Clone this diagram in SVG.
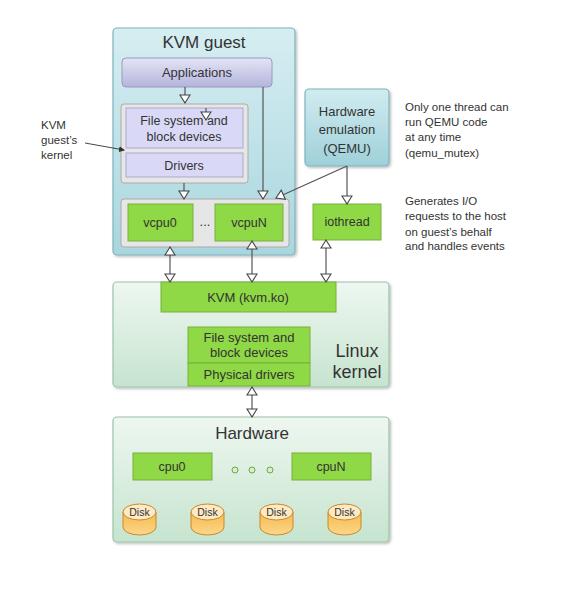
<svg xmlns="http://www.w3.org/2000/svg" width="570" height="592" viewBox="0 0 570 592">
<defs>
<linearGradient id="gBlue" x1="0" y1="0" x2="0" y2="1"><stop offset="0" stop-color="#d6eef2"/><stop offset="1" stop-color="#a9d6de"/></linearGradient>
<linearGradient id="gLav" x1="0" y1="0" x2="0" y2="1"><stop offset="0" stop-color="#e4e4f6"/><stop offset="1" stop-color="#b4b4dc"/></linearGradient>
<linearGradient id="gGreenBg" x1="0" y1="0" x2="0" y2="1"><stop offset="0" stop-color="#eef7f0"/><stop offset="1" stop-color="#c6e4cf"/></linearGradient>
<linearGradient id="gQemu" x1="0" y1="0" x2="0" y2="1"><stop offset="0" stop-color="#d0ecf0"/><stop offset="1" stop-color="#9fd0d9"/></linearGradient>
<linearGradient id="gDisk" x1="0" y1="0" x2="0" y2="1"><stop offset="0" stop-color="#f6b94e"/><stop offset="1" stop-color="#fbd78a"/></linearGradient>
<marker id="tri" markerWidth="12" markerHeight="12" refX="9" refY="6" orient="auto-start-reverse" markerUnits="userSpaceOnUse" viewBox="0 0 12 12">
<path d="M1,1 L9,6 L1,11 Z" fill="#fff" stroke="#444" stroke-width="1.1"/>
</marker>
<marker id="small" markerWidth="6" markerHeight="6" refX="5" refY="3" orient="auto" markerUnits="userSpaceOnUse" viewBox="0 0 6 6">
<path d="M0,0 L6,3 L0,6 Z" fill="#333"/>
</marker>
<filter id="sh" x="-5%" y="-5%" width="110%" height="110%"><feDropShadow dx="1.5" dy="1.5" stdDeviation="1" flood-color="#000" flood-opacity="0.25"/></filter>
</defs>
<style>
text{font-family:"Liberation Sans","DejaVu Sans",sans-serif;fill:#333}
.c{text-anchor:middle}
.green{fill:#8fd846;stroke:#7ab03c;stroke-width:1}
.lav{fill:#d9d9f7;stroke:#a9a9cc;stroke-width:1}
.ln{stroke:#555;stroke-width:1.2;fill:none}
.t11{font-size:11.5px}
.t12{font-size:12.5px}
.t13{font-size:13px}
.t17{font-size:17px}
.disk{fill:url(#gDisk);stroke:#c98a2a;stroke-width:1}
.dtop{fill:#fde9c4;stroke:#c98a2a;stroke-width:1}
</style>
<rect width="570" height="592" fill="#fff"/>

<g id="kvm-guest">
<rect x="113" y="28" width="182" height="227" rx="4" fill="url(#gBlue)" stroke="#7fb3bd" stroke-width="1.2" filter="url(#sh)"/>
<text x="204" y="48" class="c t17">KVM guest</text>
</g>
<g id="applications">
<rect x="122" y="58" width="150" height="29" rx="4" fill="url(#gLav)" stroke="#9a9ac0" stroke-width="1"/>
<text x="197" y="77" class="c t13">Applications</text>
</g>
<g id="guest-kernel">
<rect x="121" y="104" width="127" height="79" rx="3" fill="#e6e6e6" stroke="#aaa" stroke-width="1"/>
</g>
<g id="guest-fs">
<rect x="126" y="108" width="117" height="40" class="lav"/>
<text x="184" y="125" class="c t12">File system and</text>
<text x="184" y="141" class="c t12">block devices</text>
</g>
<g id="guest-drivers">
<rect x="126" y="153" width="117" height="24" class="lav"/>
<text x="184" y="170" class="c t12">Drivers</text>
</g>
<g id="vcpu-container">
<rect x="121" y="199" width="168" height="48" rx="3" fill="#e6e6e6" stroke="#aaa" stroke-width="1"/>
<text x="205" y="226" class="c t13">...</text>
</g>
<g id="vcpu0">
<rect x="128" y="204" width="65" height="37" class="green"/>
<text x="160" y="227" class="c t12">vcpu0</text>
</g>
<g id="vcpuN">
<rect x="215" y="204" width="68" height="37" class="green"/>
<text x="249" y="227" class="c t12">vcpuN</text>
</g>
<g id="qemu">
<rect x="305" y="89" width="84" height="77" rx="4" fill="url(#gQemu)" stroke="#7fb3bd" stroke-width="1.2" filter="url(#sh)"/>
<text x="347" y="116" class="c t13">Hardware</text>
<text x="347" y="134" class="c t13">emulation</text>
<text x="347" y="153" class="c t13">(QEMU)</text>
</g>
<g id="iothread">
<rect x="313" y="204" width="68" height="36" class="green"/>
<text x="347" y="226" class="c t12">iothread</text>
</g>
<g id="note-qemu">
<text x="405" y="111" class="t11">Only one thread can</text>
<text x="405" y="126" class="t11">run QEMU code</text>
<text x="405" y="141" class="t11">at any time</text>
<text x="405" y="157" class="t11">(qemu_mutex)</text>
</g>
<g id="note-iothread">
<text x="405" y="205" class="t11">Generates I/O</text>
<text x="405" y="220" class="t11">requests to the host</text>
<text x="405" y="236" class="t11">on guest’s behalf</text>
<text x="405" y="250" class="t11">and handles events</text>
</g>
<g id="note-guest-kernel">
<text x="41" y="129" class="t11">KVM</text>
<text x="41" y="144" class="t11">guest’s</text>
<text x="41" y="159" class="t11">kernel</text>
</g>

<g id="linux-kernel">
<rect x="113" y="282" width="276" height="105" rx="4" fill="url(#gGreenBg)" stroke="#9cc4a8" stroke-width="1.2" filter="url(#sh)"/>
<text x="357" y="357" class="c" font-size="18px">Linux</text>
<text x="357" y="378" class="c" font-size="18px">kernel</text>
</g>
<g id="kvm-ko">
<rect x="161" y="282" width="175" height="30" class="green"/>
<text x="248" y="302" class="c t13">KVM (kvm.ko)</text>
</g>
<g id="host-fs">
<rect x="188" y="327" width="122" height="36" class="green"/>
<text x="249" y="342" class="c t13">File system and</text>
<text x="249" y="357" class="c t13">block devices</text>
</g>
<g id="physical-drivers">
<rect x="188" y="363" width="122" height="23" class="green"/>
<text x="249" y="379" class="c t13">Physical drivers</text>
</g>

<g id="hardware">
<rect x="113" y="417" width="276" height="125" rx="4" fill="url(#gGreenBg)" stroke="#9cc4a8" stroke-width="1.2" filter="url(#sh)"/>
<text x="252" y="439" class="c t17">Hardware</text>
<g fill="#d6f0c0" stroke="#6aa84f" stroke-width="1">
<circle cx="235" cy="470" r="3"/><circle cx="252" cy="470" r="3"/><circle cx="270" cy="470" r="3"/>
</g>
</g>
<g id="cpu0">
<rect x="133" y="453" width="79" height="27" class="green"/>
<text x="172" y="471" class="c t12">cpu0</text>
</g>
<g id="cpuN">
<rect x="292" y="453" width="79" height="27" class="green"/>
<text x="331" y="471" class="c t12">cpuN</text>
</g>
<g id="disk1">
<path d="M123,512 v15 a16.5,8 0 0 0 33,0 v-15" class="disk"/>
<ellipse cx="139.5" cy="512" rx="16.5" ry="8" class="dtop"/>
<text x="139.5" y="516" class="c" font-size="10.5px">Disk</text>
</g>
<g id="disk2">
<path d="M191,512 v15 a16.5,8 0 0 0 33,0 v-15" class="disk"/>
<ellipse cx="207.5" cy="512" rx="16.5" ry="8" class="dtop"/>
<text x="207.5" y="516" class="c" font-size="10.5px">Disk</text>
</g>
<g id="disk3">
<path d="M260,512 v15 a16.5,8 0 0 0 33,0 v-15" class="disk"/>
<ellipse cx="276.5" cy="512" rx="16.5" ry="8" class="dtop"/>
<text x="276.5" y="516" class="c" font-size="10.5px">Disk</text>
</g>
<g id="disk4">
<path d="M328,512 v15 a16.5,8 0 0 0 33,0 v-15" class="disk"/>
<ellipse cx="344.5" cy="512" rx="16.5" ry="8" class="dtop"/>
<text x="344.5" y="516" class="c" font-size="10.5px">Disk</text>
</g>

<g id="connectors">
<path d="M185,87 V103" class="ln" marker-end="url(#tri)"/>
<path d="M206,108 V120" class="ln" marker-end="url(#tri)"/>
<path d="M184,183 V199" class="ln" marker-end="url(#tri)"/>
<path d="M263,87 V199" class="ln" marker-end="url(#tri)"/>
<path d="M347,166 L276,198" class="ln" marker-end="url(#tri)"/>
<path d="M347,166 V204" class="ln" marker-end="url(#tri)"/>
<path d="M170,247 V282" class="ln" marker-start="url(#tri)" marker-end="url(#tri)"/>
<path d="M252,241 V282" class="ln" marker-start="url(#tri)" marker-end="url(#tri)"/>
<path d="M326,240 V282" class="ln" marker-start="url(#tri)" marker-end="url(#tri)"/>
<path d="M252,387 V417" class="ln" marker-start="url(#tri)" marker-end="url(#tri)"/>
<path d="M85,143 L124,150" stroke="#333" stroke-width="0.9" fill="none" marker-end="url(#small)"/>
</g>
</svg>
